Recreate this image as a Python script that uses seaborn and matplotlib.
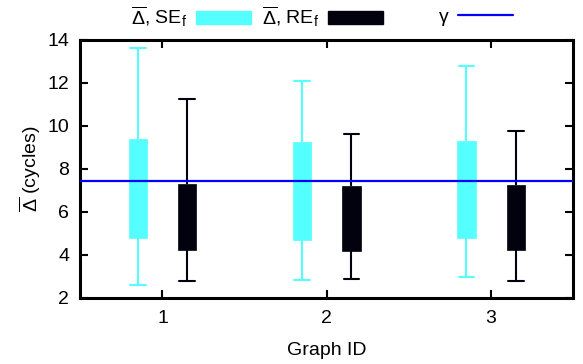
import pandas as pd
import numpy as np
import matplotlib
matplotlib.use("Agg")
import matplotlib.pyplot as plt
from matplotlib.patches import Patch
from matplotlib.lines import Line2D
import seaborn as sns

# --- data (candlesticks: min, box low, box high, max) ---
graph_ids = [1, 2, 3]
se_min = [2.60, 2.84, 2.98]
se_low = [4.78, 4.70, 4.78]
se_high = [9.38, 9.26, 9.27]
se_max = [13.60, 12.09, 12.78]
re_min = [2.78, 2.87, 2.76]
re_low = [4.23, 4.19, 4.23]
re_high = [7.29, 7.19, 7.24]
re_max = [11.24, 9.60, 9.77]
gamma = 7.42

series_names = ["SE", "RE"]
colors = {"SE": "#55ffff", "RE": "#02020e"}
line_blue = "#0000ff"

# long-form table; low value repeated so that quartiles land on the box edges
rows = []
for name, mins, lows, highs, maxs in [("SE", se_min, se_low, se_high, se_max),
                                      ("RE", re_min, re_low, re_high, re_max)]:
    for g, a, b, c, d in zip(graph_ids, mins, lows, highs, maxs):
        for v in (a, b, b, c, d):
            rows.append({"graph": g, "series": name, "value": v})
df = pd.DataFrame(rows)

# --- style ---
sns.set_theme(style="white")
plt.rcParams["font.family"] = ["Liberation Sans", "DejaVu Sans"]
plt.rcParams.update({
    "mathtext.fontset": "custom",
    "mathtext.rm": "Liberation Sans",
    "mathtext.it": "Liberation Sans:italic",
    "mathtext.bf": "Liberation Sans:bold",
    "font.size": 14,
    "axes.labelsize": 14,
    "xtick.labelsize": 14,
    "ytick.labelsize": 14,
    "text.color": "black",
    "axes.labelcolor": "black",
    "xtick.color": "black",
    "ytick.color": "black",
    "axes.edgecolor": "black",
    "axes.linewidth": 2.2,
})

fig = plt.figure(figsize=(5.83, 3.64), dpi=100)
ax = fig.add_axes([80.3 / 583, 1 - 297.7 / 364, (573.3 - 80.3) / 583, (297.7 - 39.7) / 364])

for name in series_names:
    c = colors[name]
    sns.boxplot(data=df[df["series"] == name], x="graph", y="value", hue="series",
                hue_order=series_names, order=graph_ids, palette=colors,
                saturation=1, width=0.6, gap=0.627, whis=(0, 100), dodge=True,
                linecolor=c, linewidth=1.5, legend=False, ax=ax,
                capwidths=0.095, showfliers=False,
                medianprops={"visible": False},
                boxprops={"edgecolor": c, "linewidth": 0.5},
                whiskerprops={"color": c}, capprops={"color": c})

ax.axhline(gamma, color=line_blue, lw=1.6, zorder=10)

ax.set_xlim(-0.5, 2.5)
ax.set_ylim(2, 14)
ax.set_yticks(np.arange(2, 15, 2))
ax.tick_params(direction="in", length=5.5, width=1.5, top=True, right=True,
               bottom=True, left=True)
ax.tick_params(axis="x", pad=9)
ax.tick_params(axis="y", pad=8)
ax.set_xlabel("Graph ID", labelpad=11)
ax.set_ylabel(r"$\overline{\Delta}$ (cycles)", labelpad=3)

# --- gnuplot-like key on top: label then sample ---
handles = [
    Patch(facecolor=colors["SE"], edgecolor=colors["SE"]),
    Patch(facecolor=colors["RE"], edgecolor=colors["RE"]),
    Line2D([], [], color=line_blue, lw=1.6),
]
labels = [r"$\overline{\Delta}$, SE$_\mathrm{f}$", r"$\overline{\Delta}$, RE$_\mathrm{f}$", "γ"]
right_edges = [251, 383, 513]
for h, lab, xr in zip(handles, labels, right_edges):
    fig.legend([h], [lab], loc="center right", bbox_to_anchor=(xr / 583, 1 - 17 / 364),
               frameon=False, markerfirst=False, borderpad=0, borderaxespad=0,
               handlelength=2.83, handleheight=0.62, handletextpad=0.46, fontsize=14)

fig.savefig("out.png", dpi=100)
